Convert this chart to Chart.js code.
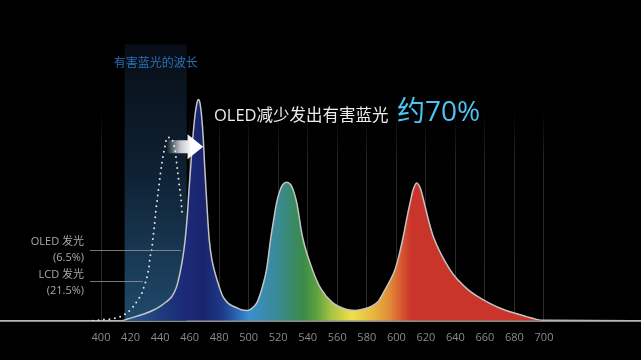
<!DOCTYPE html>
<html>
<head>
<meta charset="utf-8">
<script src="https://cdn.jsdelivr.net/npm/chart.js@4.4.1/dist/chart.umd.min.js"></script>
<style>
  html, body { margin: 0; padding: 0; background: #000; }
  #wrap { width: 641px; height: 360px; position: relative; }
</style>
</head>
<body>
<div id="wrap"><canvas id="c"></canvas></div>
<script>
// ---- data ----
const xTickLabels = [400, 420, 440, 460, 480, 500, 520, 540, 560, 580, 600, 620, 640, 660, 680, 700];

// OLED emission spectrum (wavelength nm, relative intensity; blue peak = 100)
const spectrumNm = [330, 400, 414, 418, 424, 430, 436, 440, 444, 448, 451, 453.5, 455.5, 457, 458.5, 459.6, 461, 462.1, 463.5, 465, 465.9, 467, 468.2, 469.3, 470.2, 471.1, 472.3, 473.3, 475, 477.2, 480, 482.6, 486, 491.9, 495, 498.9, 502, 505.4, 508, 510, 512.1, 515.1, 517, 518.9, 521, 523, 525.7, 528.5, 530.5, 532.6, 536.4, 543.2, 548.9, 556.8, 565.8, 572, 578, 583, 588, 592.3, 596, 599.1, 602, 604.7, 607, 609.3, 611.3, 613.8, 616.5, 618.9, 622, 625, 636.3, 642, 648.7, 655, 662.3, 670, 680.4, 688, 694, 700, 766];
const oledIntensity = [0, 0, 0, 0.8, 2, 3.3, 5, 6.5, 8.5, 11, 15, 21.7, 29, 36.7, 48, 59.3, 72, 82, 92, 98.5, 100, 98.5, 92, 82, 70, 59.3, 46, 36.7, 28, 21.7, 15.5, 10.9, 8, 5.9, 5, 4.7, 5.5, 8, 12.5, 17, 23.1, 38.1, 46, 53.3, 58.5, 61.5, 62.6, 61.5, 58.5, 53.3, 38.1, 23.1, 14.5, 8.2, 5.2, 4.7, 5.3, 6.5, 9, 14, 18.5, 23.1, 30, 38.1, 46, 53.3, 59, 62.3, 59.5, 53.3, 45, 38.1, 23.1, 18.3, 14, 11, 8.2, 5.8, 3.4, 1.9, 0.8, 0.2, 0];

// LCD blue emission (dotted)
const lcdNm = [394.6, 401.4, 407.4, 412.9, 417.6, 421.7, 425, 427.8, 429.1, 431.2, 432.5, 433.2, 434.5, 435.2, 435.9, 436.6, 437.2, 437.9, 441.3, 443.3, 444.7, 446.7, 450.1, 451.5, 452.8, 454.2, 454.9];
const lcdIntensity = [0, 0.5, 0.9, 1.8, 3.6, 6.3, 9.5, 12.7, 15.4, 19.9, 24.4, 28.5, 33, 37.6, 41.2, 45.7, 50.2, 53.8, 71.5, 78.7, 82.8, 82.8, 77.4, 69.7, 62.4, 54.8, 48.9];

// texts
const bandLabel = '有害蓝光的波长';
const headline = 'OLED减少发出有害蓝光';
const headlineValue = '约70%';
const legendLabels = [['OLED 发光', '(6.5%)'], ['LCD 发光', '(21.5%)']];

const FONT = '"Open Sans", "Noto Sans CJK SC", sans-serif';

const toXY = (xs, ys) => xs.map((x, i) => ({ x: x, y: ys[i] }));

function spectrumGradient(ctx) {
  const chart = ctx.chart;
  const area = chart.chartArea;
  if (!area) return '#1a2470';
  const sx = chart.scales.x;
  const a = 415, b = 700;
  const g = chart.ctx.createLinearGradient(sx.getPixelForValue(a), 0, sx.getPixelForValue(b), 0);
  const stops = [
    [415, '#2c5f8e'], [440, '#1f3c7e'], [456, '#1b2a78'], [470, '#1a246e'],
    [482, '#1d3a88'], [491, '#2860ae'], [500, '#3a8ecc'], [510, '#3a8cb0'],
    [521, '#3a8a90'], [537, '#3a8a48'], [546, '#5ea040'], [556, '#a6c444'],
    [570, '#f0e048'], [584, '#e8b840'], [596, '#e08838'], [604, '#d65530'],
    [610, '#c9352b'], [700, '#c9352b']
  ];
  stops.forEach(s => g.addColorStop((s[0] - a) / (b - a), s[1]));
  return g;
}

const decorPlugin = {
  id: 'decor',
  beforeDraw(chart) {
    const c = chart.ctx;
    c.save();
    c.fillStyle = '#000';
    c.fillRect(0, 0, chart.width, chart.height);
    c.restore();
  },
  beforeDatasetsDraw(chart) {
    const c = chart.ctx, sx = chart.scales.x, sy = chart.scales.y;
    const x0 = sx.getPixelForValue(416), x1 = sx.getPixelForValue(458);
    const y0 = sy.getPixelForValue(125), y1 = sy.getPixelForValue(0);
    const g = c.createLinearGradient(0, y0, 0, y1);
    g.addColorStop(0, 'rgba(8,14,22,1)');
    g.addColorStop(0.45, 'rgba(14,32,50,1)');
    g.addColorStop(1, 'rgba(32,74,108,1)');
    c.save();
    c.fillStyle = g;
    c.fillRect(x0, y0, x1 - x0, y1 - y0);
    // band label
    c.fillStyle = '#2b6fb6';
    c.font = '12px ' + FONT;
    c.textAlign = 'center';
    c.textBaseline = 'middle';
    c.fillText(bandLabel, (x0 + x1) / 2, 64);
    c.restore();
  },
  afterDatasetsDraw(chart) {
    const c = chart.ctx, sx = chart.scales.x, sy = chart.scales.y;
    c.save();
    // arrow from LCD peak toward OLED peak
    const ay = sy.getPixelForValue(78.7);
    const ax0 = sx.getPixelForValue(444.5), axh = sx.getPixelForValue(458.6), axt = sx.getPixelForValue(469.2);
    const ag = c.createLinearGradient(ax0, 0, axh + 4, 0);
    ag.addColorStop(0, 'rgba(255,255,255,0)');
    ag.addColorStop(0.55, 'rgba(255,255,255,0.75)');
    ag.addColorStop(1, 'rgba(255,255,255,1)');
    c.fillStyle = ag;
    c.beginPath();
    c.moveTo(ax0, ay - 6.5);
    c.lineTo(axh, ay - 6.5);
    c.lineTo(axh, ay - 12.5);
    c.lineTo(axt, ay);
    c.lineTo(axh, ay + 12.5);
    c.lineTo(axh, ay + 6.5);
    c.lineTo(ax0, ay + 6.5);
    c.closePath();
    c.fill();

    // leader lines
    c.strokeStyle = 'rgba(150,150,150,0.8)';
    c.lineWidth = 1;
    const lx = sx.getPixelForValue(392.5);
    const oy = Math.round(sy.getPixelForValue(31.8)) + 0.5;
    const ly = Math.round(sy.getPixelForValue(17.8)) + 0.5;
    c.beginPath();
    c.moveTo(lx, oy); c.lineTo(sx.getPixelForValue(454.2), oy);
    c.moveTo(lx, ly); c.lineTo(sx.getPixelForValue(428.4), ly);
    c.stroke();

    // left labels
    c.fillStyle = '#a8a8a8';
    c.font = '11px ' + FONT;
    c.textAlign = 'right';
    c.textBaseline = 'middle';
    const rx = sx.getPixelForValue(388.5);
    c.fillText(legendLabels[0][0], rx, 242);
    c.fillText(legendLabels[0][1], rx, 258);
    c.fillText(legendLabels[1][0], rx, 275);
    c.fillText(legendLabels[1][1], rx, 291);

    // headline
    c.textAlign = 'left';
    c.textBaseline = 'alphabetic';
    c.fillStyle = '#ececec';
    c.font = '16.5px ' + FONT;
    const hx = sx.getPixelForValue(476.5);
    c.fillText(headline, hx, 121);
    c.fillStyle = '#4ec2f0';
    c.font = '28px ' + FONT;
    c.fillText(headlineValue, sx.getPixelForValue(600.5), 121);
    c.restore();
  }
};

new Chart(document.getElementById('c'), {
  type: 'line',
  data: {
    datasets: [
      {
        label: 'OLED',
        data: toXY(spectrumNm, oledIntensity),
        fill: 'origin',
        backgroundColor: spectrumGradient,
        borderColor: '#c4c4c4',
        borderWidth: 1.5,
        pointRadius: 0,
        cubicInterpolationMode: 'monotone',
        order: 2
      },
      {
        label: 'LCD',
        data: toXY(lcdNm, lcdIntensity),
        fill: false,
        borderColor: 'rgba(235,235,235,0.95)',
        borderWidth: 2,
        borderDash: [0, 5.5],
        borderCapStyle: 'round',
        pointRadius: 0,
        cubicInterpolationMode: 'monotone',
        order: 1
      }
    ]
  },
  options: {
    responsive: true,
    maintainAspectRatio: false,
    animation: false,
    events: [],
    layout: { padding: { top: 0, left: 0, right: 0, bottom: 6 } },
    plugins: { legend: { display: false }, tooltip: { enabled: false } },
    scales: {
      x: {
        type: 'linear',
        min: 331.6,
        max: 765.7,
        afterBuildTicks: (scale) => { scale.ticks = xTickLabels.map(v => ({ value: v })); },
        grid: {
          drawTicks: false,
          lineWidth: 1,
          color: (ctx) => {
            const chart = ctx.chart, area = chart.chartArea;
            if (!area) return '#222';
            const g = chart.ctx.createLinearGradient(0, 110, 0, area.bottom);
            g.addColorStop(0, 'rgba(40,40,40,0)');
            g.addColorStop(0.25, 'rgba(40,40,40,1)');
            g.addColorStop(1, 'rgba(44,44,44,1)');
            return g;
          }
        },
        border: { display: true, color: '#8c8c8c', width: 2 },
        ticks: {
          color: '#8a8a8a',
          font: { family: FONT, size: 11 },
          padding: 10,
          maxRotation: 0,
          autoSkip: false,
          callback: (v) => String(v)
        }
      },
      y: {
        display: false,
        min: 0,
        max: 145
      }
    }
  },
  plugins: [decorPlugin]
});
</script>
</body>
</html>
